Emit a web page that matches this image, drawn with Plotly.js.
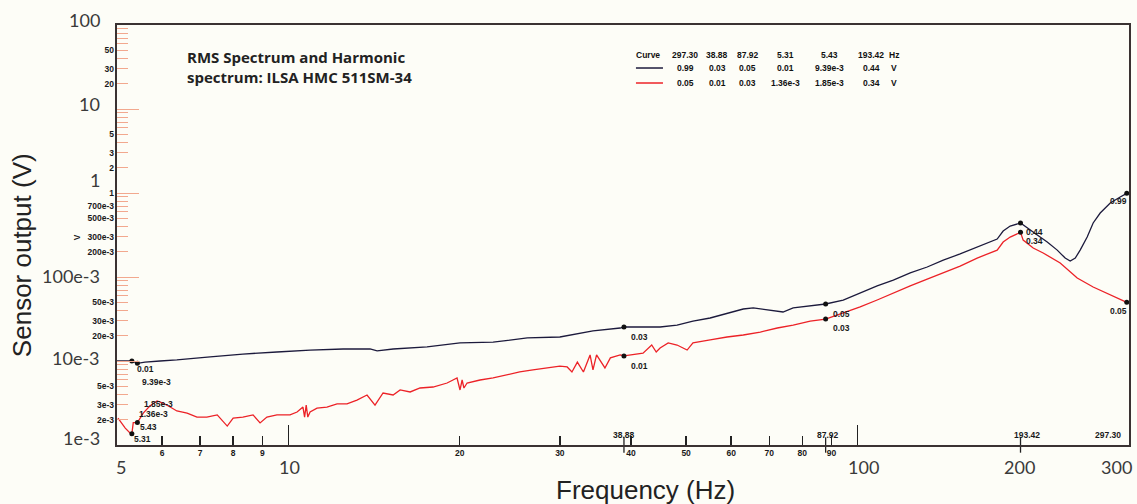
<!DOCTYPE html>
<html><head><meta charset="utf-8">
<script src="https://cdn.plot.ly/plotly-3.0.1.min.js"></script>
<style>html,body{margin:0;padding:0;background:#fdfdf7;}#chart{width:1137px;height:504px;}</style>
</head><body><div id="chart"></div>
<script>
// ---- data ----
const blackFreq = [5.0, 5.17, 5.31, 5.43, 5.6, 5.95, 6.37, 7.29, 8.32, 9.55, 10.92, 12.48, 13.92, 14.32, 15.28, 17.53, 20.03, 22.9, 26.3, 30.0, 34.3, 38.3, 38.88, 42.0, 45.0, 48.2, 51.4, 55.1, 59.0, 63.0, 65.6, 69.4, 72.3, 74.0, 77.1, 82.6, 87.92, 94.4, 101.1, 105.3, 108.3, 115.6, 123.8, 132.6, 141.5, 151.5, 162.3, 173.2, 176.0, 180.3, 185.5, 193.42, 198.7, 207, 215.5, 224.4, 231.7, 236.5, 241.4, 246.2, 253.3, 259.5, 267, 278.1, 289.5, 297.3];
const blackV = [0.0100, 0.0100, 0.0100, 0.00939, 0.0097, 0.0100, 0.0103, 0.0112, 0.0121, 0.0128, 0.0135, 0.0139, 0.0139, 0.0132, 0.0139, 0.0147, 0.0164, 0.0168, 0.0188, 0.0193, 0.0228, 0.0247, 0.0254, 0.0254, 0.0254, 0.0268, 0.0299, 0.0325, 0.0372, 0.0416, 0.0428, 0.0404, 0.0394, 0.0383, 0.0428, 0.0452, 0.0477, 0.0532, 0.0646, 0.0720, 0.0782, 0.092, 0.1117, 0.1315, 0.159, 0.188, 0.2275, 0.2685, 0.283, 0.353, 0.404, 0.44, 0.383, 0.316, 0.261, 0.209, 0.168, 0.155, 0.168, 0.209, 0.299, 0.44, 0.578, 0.760, 0.895, 0.99];
const redFreq = [5.02, 5.17, 5.27, 5.31, 5.34, 5.43, 5.56, 5.71, 5.88, 6.02, 6.20, 6.37, 6.64, 6.91, 7.19, 7.50, 7.81, 8.00, 8.32, 8.67, 8.92, 9.17, 9.55, 9.79, 10.07, 10.36, 10.61, 10.68, 10.75, 10.82, 10.92, 11.23, 11.69, 12.18, 12.68, 13.2, 13.75, 14.2, 14.67, 15.28, 15.72, 16.37, 17.04, 17.96, 19.01, 19.79, 20.03, 20.2, 20.35, 20.61, 21.72, 22.9, 24.23, 25.5, 26.9, 28.5, 30.0, 30.9, 31.5, 32.2, 33.0, 33.9, 34.3, 34.8, 35.3, 36.0, 36.8, 38.3, 38.88, 42.0, 43.5, 44.3, 45.0, 46.5, 48.2, 50.2, 51.4, 52.3, 55.1, 59.0, 63.0, 67.5, 72.3, 77.1, 82.6, 87.92, 94.4, 101.1, 108.3, 115.6, 123.8, 132.6, 141.5, 151.5, 162.3, 173.2, 176.0, 180.3, 185.5, 193.42, 195.5, 203.6, 212, 227.1, 243.3, 259.5, 278.1, 293, 297.3];
const redV = [0.00209, 0.00159, 0.00139, 0.00136, 0.00185, 0.00185, 0.0024, 0.00291, 0.00334, 0.00316, 0.00283, 0.00254, 0.0024, 0.00215, 0.00215, 0.00228, 0.00168, 0.00209, 0.00215, 0.00228, 0.00183, 0.00215, 0.00228, 0.00228, 0.00228, 0.00247, 0.00283, 0.00215, 0.00299, 0.00215, 0.00247, 0.00275, 0.00283, 0.00308, 0.00308, 0.00343, 0.00394, 0.00299, 0.00416, 0.00394, 0.00452, 0.00428, 0.00477, 0.0049, 0.00547, 0.00628, 0.00452, 0.00594, 0.00477, 0.00547, 0.00594, 0.00628, 0.00681, 0.0074, 0.00782, 0.00826, 0.00871, 0.00849, 0.0074, 0.0097, 0.0074, 0.0118, 0.00782, 0.0118, 0.0103, 0.00826, 0.0109, 0.0118, 0.0115, 0.0124, 0.0155, 0.0128, 0.0143, 0.0164, 0.0155, 0.0135, 0.0164, 0.0168, 0.0178, 0.0193, 0.0204, 0.0221, 0.0247, 0.0268, 0.0299, 0.0316, 0.0372, 0.044, 0.0532, 0.0646, 0.0782, 0.0946, 0.1117, 0.135, 0.168, 0.199, 0.209, 0.261, 0.299, 0.34, 0.275, 0.221, 0.193, 0.147, 0.0973, 0.076, 0.0611, 0.0518, 0.05];

const cursorFreqs = [297.30, 38.88, 87.92, 5.31, 5.43, 193.42];
const cursorBlackLabels = ['0.99', '0.03', '0.05', '0.01', '9.39e-3', '0.44'];
const cursorRedLabels = ['0.05', '0.01', '0.03', '1.36e-3', '1.85e-3', '0.34'];

const bigXTicks = [5, 10, 100, 200, 300];
const bigXLabels = ['5', '10', '100', '200', '300'];
const smallXTicks = [6, 7, 8, 9, 20, 30, 40, 50, 60, 70, 80, 90];
const bigYTicks = [100, 10, 1, 0.1, 0.01, 0.001];
const bigYLabels = ['100', '10', '1', '100e-3', '10e-3', '1e-3'];
const smallYTicks = [50, 30, 20, 5, 3, 2, 1, 0.7, 0.5, 0.3, 0.2, 0.05, 0.03, 0.02, 0.005, 0.003, 0.002];
const smallYLabels = ['50', '30', '20', '5', '3', '2', '1', '700e-3', '500e-3', '300e-3', '200e-3', '50e-3', '30e-3', '20e-3', '5e-3', '3e-3', '2e-3'];

const titleText = 'RMS Spectrum and Harmonic<br>spectrum: ILSA HMC 511SM-34';
const xTitle = 'Frequency (Hz)';
const yTitle = 'Sensor output (V)';

// ---- styling / helpers ----
const BLACK = '#1c1a3c', RED = '#ec2227', ORANGE = '#f2a88e', AX = '#3a3232';
const SMALL = {family: 'Liberation Sans, Arial, sans-serif', size: 8.5, color: '#1a1a1a', weight: 700};
const BIG = {family: 'Lato, Open Sans, sans-serif', size: 18, color: '#3a3a3a'};
const L = Math.log10;
function valAt(fr, vs, f) { const i = fr.findIndex(x => Math.abs(x - f) < 1e-6); return vs[i]; }

// minor y tick positions (2..9 per decade)
const minorY = [], minorYText = [];
[0.001, 0.01, 0.1, 1, 10].forEach(d => { for (let k = 1; k <= 9; k++) {
  const v = d * k; if (k === 1 && d !== 1) continue;
  minorY.push(v);
  const j = smallYTicks.findIndex(s => Math.abs(s - v) / v < 1e-6);
  minorYText.push(j >= 0 ? smallYLabels[j] : '');
}});

const traces = [
  {x: blackFreq, y: blackV, mode: 'lines', line: {color: BLACK, width: 1.3}, xaxis: 'x', yaxis: 'y', hoverinfo: 'skip'},
  {x: redFreq, y: redV, mode: 'lines', line: {color: RED, width: 1.3}, xaxis: 'x', yaxis: 'y', hoverinfo: 'skip'},
  {x: cursorFreqs, y: cursorFreqs.map(f => valAt(blackFreq, blackV, f)), mode: 'markers',
   marker: {color: '#111', size: 5}, cliponaxis: false, xaxis: 'x', yaxis: 'y'},
  {x: cursorFreqs, y: cursorFreqs.map(f => valAt(redFreq, redV, f)), mode: 'markers',
   marker: {color: '#111', size: 5}, cliponaxis: false, xaxis: 'x', yaxis: 'y'},
  {x: [cursorFreqs[1], cursorFreqs[2], cursorFreqs[5]], y: [0.001, 0.001, 0.001], mode: 'markers',
   marker: {symbol: 'line-ns', size: 11, line: {color: '#222', width: 1.3}}, cliponaxis: false, xaxis: 'x', yaxis: 'y'}
];

const ann = [];
// chart title
ann.push({xref: 'paper', yref: 'paper', x: 0.0672, y: 0.952, xanchor: 'left', yanchor: 'top', align: 'left',
  text: titleText, showarrow: false, font: {family: 'Open Sans, sans-serif', size: 15, color: '#222', weight: 700}});
// axis titles
ann.push({xref: 'paper', yref: 'paper', x: 0.5227, y: -0.107, xanchor: 'center', yanchor: 'middle',
  text: xTitle, showarrow: false, font: {family: 'Liberation Sans, Arial, sans-serif', size: 26, color: '#222'}});
ann.push({xref: 'paper', yref: 'paper', x: -0.0939, y: 0.452, xanchor: 'center', yanchor: 'middle', textangle: -90,
  text: yTitle, showarrow: false, font: {family: 'Liberation Sans, Arial, sans-serif', size: 26, color: '#222'}});
// unit marker on y axis
ann.push({xref: 'paper', yref: 'paper', x: -0.0395, y: 0.495, xanchor: 'center', yanchor: 'middle', textangle: -90,
  text: 'V', showarrow: false, font: SMALL});
// big x labels
const bigXShift = {5: 4, 10: 1, 100: 6, 200: -9, 300: -13};
bigXTicks.forEach((v, i) => ann.push({xref: 'x', yref: 'paper', x: L(v), y: -0.0524, xanchor: 'center', yanchor: 'middle',
  xshift: bigXShift[v], text: bigXLabels[i], showarrow: false, font: BIG}));
// big y labels
const bigYShift = [5, 5, 13, 1, 3, 7];
bigYTicks.forEach((v, i) => ann.push({xref: 'paper', yref: 'y', x: 0, y: L(v), xanchor: 'right', yanchor: 'middle',
  xshift: -15, yshift: bigYShift[i], text: bigYLabels[i], showarrow: false, font: BIG}));

// cursor table
const colX = [0.5613, 0.5929, 0.6235, 0.6601, 0.7045, 0.7451];
const rowY = [0.9286, 0.8976, 0.8619];
const TAB = {family: 'Liberation Sans, Arial, sans-serif', size: 8.5, color: '#111', weight: 700};
function cell(x, y, t) { ann.push({xref: 'paper', yref: 'paper', x: x, y: y, xanchor: 'center', yanchor: 'middle', text: t, showarrow: false, font: TAB}); }
cell(0.5247, rowY[0], 'Curve');
cursorFreqs.forEach((f, i) => cell(colX[i], rowY[0], f.toFixed(2)));
cursorBlackLabels.forEach((t, i) => cell(colX[i], rowY[1], t));
cursorRedLabels.forEach((t, i) => cell(colX[i], rowY[2], t));
cell(0.7678, rowY[0], 'Hz'); cell(0.7678, rowY[1], 'V'); cell(0.7678, rowY[2], 'V');

// cursor value labels on the curves
const blackOff = [{a: 'right', dx: 2, dy: -8}, {a: 'left', dx: 5, dy: -10}, {a: 'left', dx: 5, dy: -10}, {a: 'left', dx: 3, dy: -8}, {a: 'left', dx: 3, dy: -19}, {a: 'left', dx: 3, dy: -9}];
const redOff = [{a: 'right', dx: 2, dy: -9}, {a: 'left', dx: 5, dy: -10}, {a: 'left', dx: 5, dy: -9}, {a: 'left', dx: 5, dy: 20}, {a: 'left', dx: 5, dy: 19}, {a: 'left', dx: 3, dy: -9}];
cursorFreqs.forEach((f, i) => {
  ann.push({xref: 'x', yref: 'y', x: L(f), y: L(valAt(blackFreq, blackV, f)), xanchor: blackOff[i].a, yanchor: 'middle',
    xshift: blackOff[i].dx, yshift: blackOff[i].dy, text: cursorBlackLabels[i], showarrow: false, font: SMALL});
  ann.push({xref: 'x', yref: 'y', x: L(f), y: L(valAt(redFreq, redV, f)), xanchor: redOff[i].a, yanchor: 'middle',
    xshift: redOff[i].dx, yshift: redOff[i].dy, text: cursorRedLabels[i], showarrow: false, font: SMALL});
});
// frequency labels of the low cursors, next to the red dots
[[3, 0, -5], [4, 1, -4]].forEach(([i, dx, dy]) => ann.push({xref: 'x', yref: 'y', x: L(cursorFreqs[i]), y: L(valAt(redFreq, redV, cursorFreqs[i])),
  xanchor: 'left', yanchor: 'middle', xshift: dx, yshift: dy, text: cursorFreqs[i].toFixed(2), showarrow: false, font: SMALL}));
// frequency labels on the x axis
[[1, 'center', 0], [2, 'center', 2], [5, 'center', 6], [0, 'right', -4]].forEach(([i, a, dx]) => ann.push({xref: 'x', yref: 'paper',
  x: L(cursorFreqs[i]), y: 0, xanchor: a, yanchor: 'bottom', xshift: dx, yshift: 3, text: cursorFreqs[i].toFixed(2), showarrow: false, font: SMALL}));

const layout = {
  width: 1137, height: 504,
  margin: {l: 117, r: 8, t: 25, b: 59},
  paper_bgcolor: '#fdfdf7', plot_bgcolor: '#fdfdf7',
  showlegend: false,
  xaxis: {type: 'log', range: [L(5), L(300)], showgrid: false, zeroline: false,
    showline: true, mirror: true, linecolor: AX, linewidth: 2,
    tickmode: 'array', tickvals: [10, 100], ticks: 'inside', ticklen: 20, tickwidth: 1.5, tickcolor: '#222', showticklabels: false},
  xaxis2: {type: 'log', range: [L(5), L(300)], overlaying: 'x', anchor: 'y', side: 'bottom', showgrid: false, zeroline: false, showline: false,
    tickmode: 'array', tickvals: smallXTicks, ticktext: smallXTicks.map(String), ticks: 'inside', ticklen: 9, tickwidth: 1.5, tickcolor: '#222',
    tickfont: SMALL, ticklabelstandoff: 1},
  yaxis: {type: 'log', range: [-3, 2], showgrid: false, zeroline: false,
    showline: true, mirror: true, linecolor: AX, linewidth: 2,
    tickmode: 'array', tickvals: bigYTicks, ticks: 'inside', ticklen: 22, tickwidth: 1, tickcolor: ORANGE, showticklabels: false},
  yaxis2: {type: 'log', range: [-3, 2], overlaying: 'y', anchor: 'x', side: 'left', showgrid: false, zeroline: false, showline: false,
    tickmode: 'array', tickvals: minorY, ticktext: minorYText, ticks: 'inside', ticklen: 11, tickwidth: 1, tickcolor: ORANGE,
    tickfont: SMALL, ticklabelstandoff: 2},
  shapes: [
    {type: 'line', xref: 'paper', yref: 'paper', x0: 0.5128, x1: 0.5395, y0: rowY[1], y1: rowY[1], line: {color: BLACK, width: 1.5}},
    {type: 'line', xref: 'paper', yref: 'paper', x0: 0.5128, x1: 0.5395, y0: rowY[2], y1: rowY[2], line: {color: RED, width: 1.5}}
  ],
  annotations: ann
};
// attach an invisible trace to the overlay axes so they render
traces.push({x: [10], y: [1], xaxis: 'x2', yaxis: 'y2', mode: 'markers', marker: {opacity: 0}, hoverinfo: 'skip'});

Plotly.newPlot('chart', traces, layout, {displayModeBar: false, staticPlot: true});
</script></body></html>
